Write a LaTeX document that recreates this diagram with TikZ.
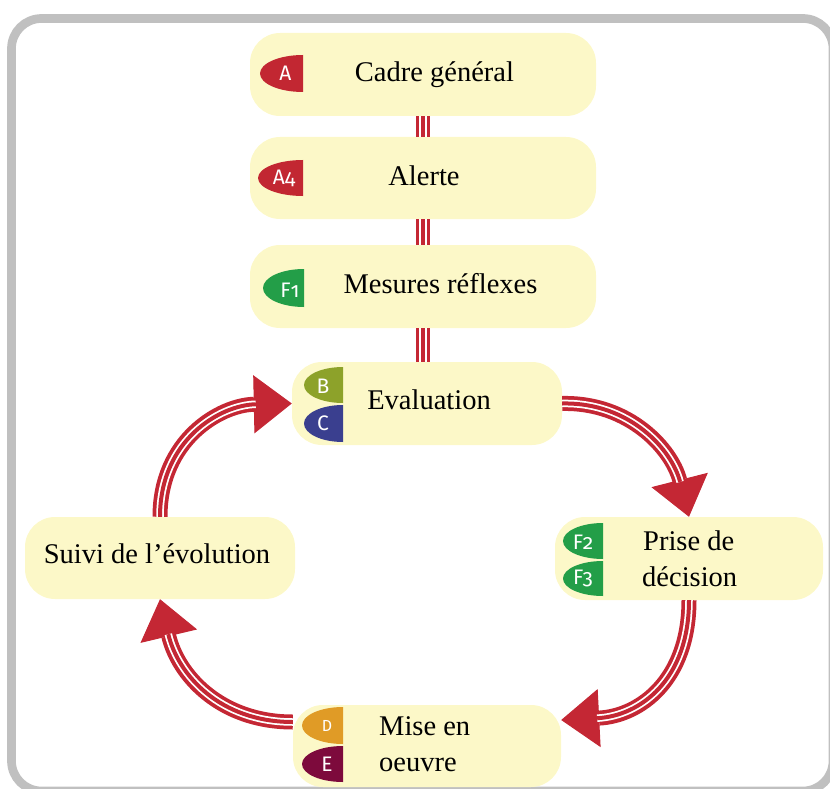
\documentclass[tikz,border=0pt]{standalone}
\usepackage{fontspec}
\setmainfont{Liberation Serif}
\newfontfamily\badgefont[Numbers=OldStyle]{Fira Sans}
\usetikzlibrary{arrows.meta}
\definecolor{boxfill}{RGB}{252,248,200}
\definecolor{arrowred}{RGB}{196,39,52}
\definecolor{bred}{RGB}{194,39,50}
\definecolor{bgreen}{RGB}{35,158,72}
\definecolor{bolive}{RGB}{141,162,42}
\definecolor{bblue}{RGB}{58,63,143}
\definecolor{borange}{RGB}{224,155,38}
\definecolor{bmaroon}{RGB}{125,10,60}
\definecolor{framegray}{RGB}{192,192,192}
\newcommand\badgeshape[5]{% color, xright, ytop, ry, rx
  \fill[#1] (#2,-#3) arc[start angle=90,end angle=270,x radius=#5,y radius=#4] -- cycle;}
\begin{document}
\begin{tikzpicture}[x=1pt,y=1pt,
  box/.style={fill=boxfill, rounded corners=30pt, minimum height=83pt, inner sep=0pt},
  lbl/.style={font=\fontsize{28.5}{34}\selectfont, text=black, inner sep=0pt, anchor=base},
  lblw/.style={lbl, anchor=base west},
  bl/.style={font=\badgefont\fontsize{21}{23}\selectfont, text=white, inner sep=0pt},
  blsmall/.style={font=\badgefont\fontsize{16}{18}\selectfont, text=white, inner sep=0pt},
  tripleline/.style={draw=arrowred, line width=14.5pt,
    postaction={draw=white, line width=7.5pt},
    postaction={draw=arrowred, line width=4pt}},
  triplearrow/.style={draw=arrowred, line width=15pt,
    -{Triangle[length=38pt,width=58pt,line width=1pt]},
    postaction={draw=white, line width=7.5pt, -, shorten >=36pt},
    postaction={draw=arrowred, line width=4pt, -, shorten >=36pt}}
]
\useasboundingbox (0,0) rectangle (830,-789);
\draw[framegray, line width=8.7pt, rounded corners=30pt] (11.5,-18.5) rectangle (833,-791);

% boxes
\node[box, minimum width=346pt] (cadre) at (423,-74.5) {};
\node[box, minimum width=346pt, minimum height=82pt] (alerte) at (423,-178) {};
\node[box, minimum width=346pt] (mesures) at (423,-286.5) {};
\node[box, minimum width=270pt] (eval) at (427,-403.5) {};
\node[box, minimum width=268pt] (prise) at (689,-558.5) {};
\node[box, minimum width=268pt, minimum height=82pt] (mise) at (427,-746) {};
\node[box, minimum width=270pt, minimum height=82pt] (suivi) at (160,-558) {};

% vertical connectors
\draw[tripleline] (cadre.south) -- (alerte.north);
\draw[tripleline] (alerte.south) -- (mesures.north);
\draw[tripleline] (mesures.south) -- (mesures.south |- eval.north);

% badges
\badgeshape{bred}{303}{55}{18.5}{43}
\node[bl] (bA) at (285.5,-73) {A};
\badgeshape{bred}{303}{160}{18}{45}
\node[bl] (bA4) at (284,-178) {A4};
\badgeshape{bgreen}{304}{269}{19}{41}
\node[bl] (bF1) at (290,-290) {F1};
\badgeshape{bolive}{343}{367}{18}{39}
\node[bl] (bB) at (323,-386) {B};
\badgeshape{bblue}{343}{405}{18.5}{39}
\node[bl] (bC) at (323,-423) {C};
\badgeshape{bgreen}{603}{523}{18}{40}
\node[bl] (bF2) at (583,-542) {F2};
\badgeshape{bgreen}{603}{561}{17.5}{40}
\node[bl] (bF3) at (583,-578) {F3};
\badgeshape{borange}{343}{707}{18.5}{41}
\node[blsmall] (bD) at (327,-726) {D};
\badgeshape{bmaroon}{343}{746}{18}{41}
\node[bl] (bE) at (327,-764) {E};

% texts
\node[lbl] (tcadre) at (434.5,-82) {Cadre général};
\node[lbl] (talerte) at (424,-185.5) {Alerte};
\node[lbl] (tmesures) at (440.5,-293.3) {Mesures réflexes};
\node[lbl] (teval) at (429,-409.3) {Evaluation};
\node[lblw] (tprise1) at (643,-550) {Prise de};
\node[lblw] (tprise2) at (642,-586.7) {décision};
\node[lblw] (tmise1) at (379,-735) {Mise en};
\node[lblw] (tmise2) at (379,-771.7) {oeuvre};
\node[lbl] (tsuivi) at (157,-563.3) {Suivi de l’évolution};

% curved arrows
\coordinate (misein) at ([yshift=26pt]mise.east);
\coordinate (miseout) at ([yshift=24pt]mise.west);
\draw[triplearrow] (eval.east) .. controls (630,-402) and (672,-450) .. (prise.north);
\draw[triplearrow] (prise.south) .. controls (689,-680) and (640,-716) .. (misein);
\draw[triplearrow] (miseout) .. controls (220,-722) and (178,-675) .. (suivi.south);
\draw[triplearrow] (suivi.north) .. controls (160,-440) and (220,-405) .. (eval.west);
\end{tikzpicture}
\end{document}
